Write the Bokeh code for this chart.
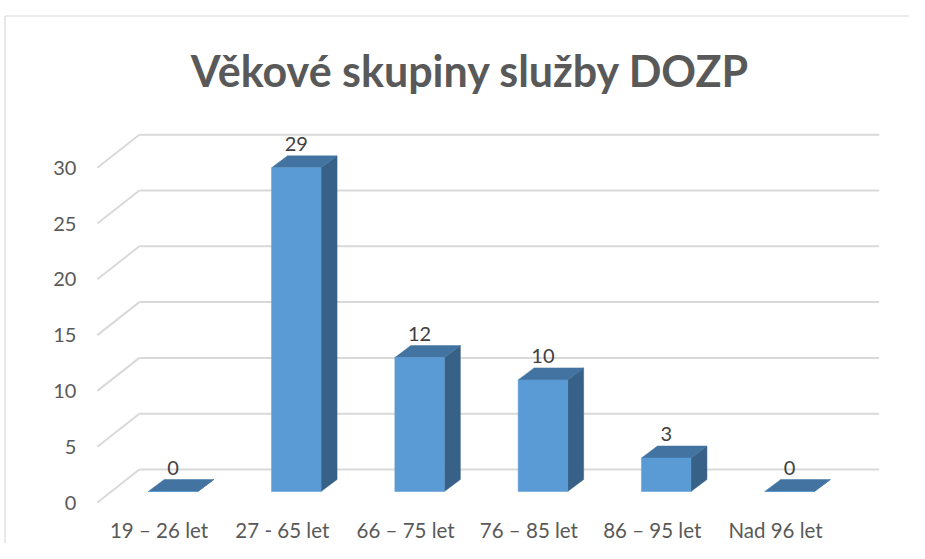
from bokeh.plotting import figure
from bokeh.models import Range1d
from bokeh.core.properties import value
from bokeh.embed import file_html
from bokeh.resources import INLINE

# ---- data ----
categories = ["19 – 26 let", "27 - 65 let", "66 – 75 let", "76 – 85 let", "86 – 95 let", "Nad 96 let"]
counts = [0, 29, 12, 10, 3, 0]
y_ticks = [0, 5, 10, 15, 20, 25, 30]
title_text = "Věkové skupiny služby DOZP"

# ---- geometry (pixels, picture coordinates) ----
W, H = 909, 543
X0, SX = 172.5, 123.3   # x of first bar centre, px per category
Y0, SY = 491.0, 11.16   # y of value 0 on bar front plane, px per unit


def xd(px):
    return (px - X0) / SX


def yd(py):
    return (Y0 - py) / SY


def ox(p):
    return p / SX


def oy(p):  # p positive = downwards on screen
    return -p / SY


WALL = (28, -22)     # back wall relative to bar front plane
FRONT = (-14, 11)    # floor front edge relative to bar front plane
DEPTH = (16, -12)    # bar depth
HW = ox(24.75)       # half bar width

FRONT_C = "#5B9BD5"
TOP_C = "#4374A1"
SIDE_C = "#386187"
GRID_C = "#D9D9D9"
TEXT_C = "#595959"

p = figure(width=W, height=H,
           x_range=Range1d(xd(0), xd(W)), y_range=Range1d(yd(H), yd(0)),
           output_backend="svg", toolbar_location=None,
           x_axis_location=None, y_axis_location=None, min_border=0)
p.grid.visible = False
p.outline_line_color = None
p.background_fill_color = "white"
p.border_fill_color = "white"

# chart-area border
p.segment(x0=[xd(4.5), xd(4.5)], y0=[yd(15.5), yd(15.5)], x1=[xd(W), xd(4.5)], y1=[yd(15.5), yd(H)],
          line_color=GRID_C, line_width=1.2)

n = len(categories)
# back-wall gridlines + diagonal floor lines
wl = -0.5 + ox(WALL[0])
wr = n - 0.5 + ox(WALL[0])
fl = -0.5 + ox(FRONT[0])
gy = [g + oy(WALL[1]) for g in y_ticks]
fy = [g + oy(FRONT[1]) for g in y_ticks]
p.segment(x0=[wl] * len(y_ticks), y0=gy, x1=[wr] * len(y_ticks), y1=gy, line_color=GRID_C, line_width=2)
p.segment(x0=[wl] * len(y_ticks), y0=gy, x1=[fl] * len(y_ticks), y1=fy, line_color=GRID_C, line_width=2)

# y tick labels
p.text(x=[fl + ox(-21)] * len(y_ticks), y=fy, text=[str(g) for g in y_ticks],
       text_align="right", text_baseline="middle", text_font=value("Lato"),
       text_font_size="20px", text_color=TEXT_C)

# bars
ddx, ddy = ox(DEPTH[0]), oy(DEPTH[1])
xs = list(range(n))
side_xs, side_ys, top_xs, top_ys = [], [], [], []
for i, v in zip(xs, counts):
    side_xs.append([i + HW, i + HW + ddx, i + HW + ddx, i + HW])
    side_ys.append([0, ddy, v + ddy, v])
    top_xs.append([i - HW, i + HW, i + HW + ddx, i - HW + ddx])
    top_ys.append([v, v, v + ddy, v + ddy])
p.patches(xs=side_xs, ys=side_ys, fill_color=SIDE_C, line_color=SIDE_C, line_width=0.5)
p.patches(xs=top_xs, ys=top_ys, fill_color=TOP_C, line_color=TOP_C, line_width=0.5)
p.quad(left=[i - HW for i in xs], right=[i + HW for i in xs], bottom=[0] * n, top=counts,
       fill_color=FRONT_C, line_color=FRONT_C, line_width=0.5)

# value labels
p.text(x=xs, y=[v + ddy + oy(-12) for v in counts], text=[str(v) for v in counts],
       text_align="center", text_baseline="middle", text_font=value("Lato"),
       text_font_size="20px", text_color="#404040")

# category labels (on the floor's front edge)
p.text(x=[i + ox(FRONT[0]) for i in xs], y=[oy(FRONT[1] + 27)] * n, text=categories,
       text_align="center", text_baseline="middle", text_font=value("Lato"),
       text_font_size="20.5px", text_color=TEXT_C)

# title
p.text(x=[xd(470)], y=[yd(70)], text=[title_text], text_align="center", text_baseline="middle",
       text_font=value("Lato"), text_font_style="bold",
       text_font_size="43px", text_color=TEXT_C)

open("out.html", "w").write(file_html(p, INLINE))
